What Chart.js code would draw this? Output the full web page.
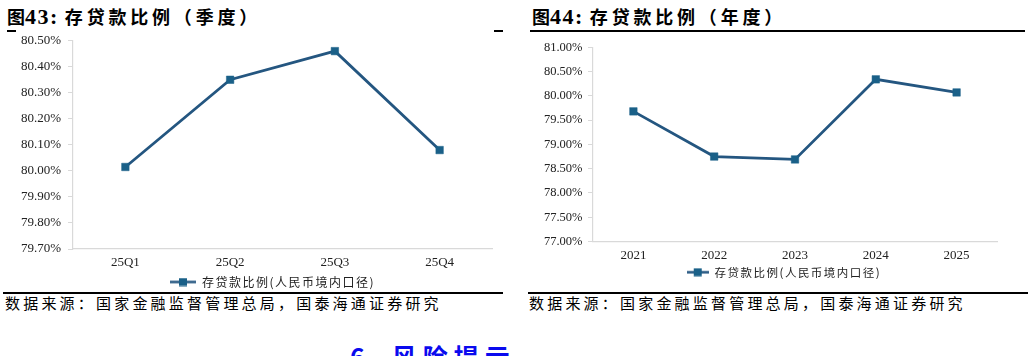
<!DOCTYPE html>
<html><head><meta charset="utf-8">
<script src="https://cdn.jsdelivr.net/npm/chart.js@4.4.1/dist/chart.umd.min.js"></script>
<style>
html,body{margin:0;padding:0;background:#fff;width:1032px;height:356px;overflow:hidden;position:relative;}
.title{position:absolute;white-space:nowrap;font-weight:bold;color:#000;line-height:24px;}
.title .cjk{font-family:"Noto Sans CJK SC";font-size:18px;}
.title .num{font-family:"Liberation Serif";font-size:22px;letter-spacing:1.5px;}
.title .sp{letter-spacing:3.8px;margin-left:6px;}
.rule{position:absolute;background:#000;height:2px;}
.src{position:absolute;white-space:nowrap;font-family:"Noto Sans CJK SC";font-size:15px;letter-spacing:3.2px;color:#000;line-height:18px;}
.sec{position:absolute;white-space:nowrap;font-family:"Noto Sans CJK SC";font-weight:bold;font-size:25px;letter-spacing:6px;color:#0a0aee;line-height:30px;}
.sec .n{letter-spacing:1px;}
canvas{position:absolute;}
</style></head>
<body>
<div class="title" style="left:7px;top:4px"><span class="cjk">图</span><span class="num">43:</span><span class="cjk sp">存贷款比例（季度）</span></div>
<div class="title" style="left:532px;top:4px"><span class="cjk">图</span><span class="num">44:</span><span class="cjk sp">存贷款比例（年度）</span></div>
<div class="rule" style="left:7px;top:30px;width:9px"></div>
<div class="rule" style="left:494px;top:30px;width:9px"></div>
<div class="rule" style="left:530px;top:30px;width:495px"></div>
<div class="rule" style="left:3px;top:292px;width:500px"></div>
<div class="rule" style="left:528px;top:292px;width:500px"></div>
<div class="src" style="left:5px;top:294px">数据来源：国家金融监督管理总局，国泰海通证券研究</div>
<div class="src" style="left:529px;top:294px">数据来源：国家金融监督管理总局，国泰海通证券研究</div>
<div class="sec" style="left:350px;top:341px"><span class="n">6、</span>风险提示</div>
<canvas id="c1" width="545" height="268" style="left:0px;top:30px"></canvas>
<canvas id="c2" width="524" height="252" style="left:522px;top:36px"></canvas>
<script>
// ---- data ----
const quarterLabels = ['25Q1', '25Q2', '25Q3', '25Q4'];
const quarterValues = [80.015, 80.35, 80.46, 80.08];
const quarterYTicks = [79.7, 79.8, 79.9, 80.0, 80.1, 80.2, 80.3, 80.4, 80.5];

const yearLabels = ['2021', '2022', '2023', '2024', '2025'];
const yearValues = [79.68, 78.75, 78.69, 80.34, 80.07];
const yearYTicks = [77.0, 77.5, 78.0, 78.5, 79.0, 79.5, 80.0, 80.5, 81.0];

const seriesName = '存贷款比例(人民币境内口径)';

// ---- styles ----
const LINE = '#245680';
const MARK = '#1a6088';
const AXIS = '#d9d9d9';
const LEGEND_SPACING = '1.5px';

// legend letter spacing
const LegendEl = Chart.Legend && Chart.Legend._element;
if (LegendEl && LegendEl.prototype) {
  const oFit = LegendEl.prototype.fit, oDraw = LegendEl.prototype.draw;
  LegendEl.prototype.fit = function () {
    const c = this.ctx; const p = c.letterSpacing; c.letterSpacing = LEGEND_SPACING;
    oFit.call(this); c.letterSpacing = p || '0px';
  };
  LegendEl.prototype.draw = function () {
    const c = this.ctx; const p = c.letterSpacing; c.letterSpacing = LEGEND_SPACING;
    oDraw.call(this); c.letterSpacing = p || '0px';
  };
}

function legendSymbol(w) {
  const cv = document.createElement('canvas');
  cv.width = w; cv.height = 9;
  const g = cv.getContext('2d');
  g.strokeStyle = LINE; g.lineWidth = 2.5;
  g.beginPath(); g.moveTo(0, 4.5); g.lineTo(w, 4.5); g.stroke();
  g.fillStyle = MARK;
  g.fillRect(w / 2 - 4, 0.5, 8, 8);
  return cv;
}

function makeChart(id, labels, values, yTicks, opt) {
  return new Chart(document.getElementById(id), {
    type: 'line',
    data: {
      labels: labels,
      datasets: [{
        label: seriesName,
        data: values,
        borderColor: LINE,
        backgroundColor: MARK,
        borderWidth: 2.8,
        tension: 0,
        pointStyle: 'rect',
        pointRadius: 5.3,
        pointBackgroundColor: MARK,
        pointBorderColor: MARK,
        pointBorderWidth: 0.5,
        clip: false
      }]
    },
    options: {
      responsive: false,
      animation: false,
      events: [],
      layout: { padding: { top: opt.padTop, bottom: 0, left: 0, right: 0 } },
      plugins: {
        tooltip: { enabled: false },
        legend: {
          position: 'bottom',
          labels: {
            usePointStyle: true,
            pointStyle: legendSymbol(opt.symW),
            pointStyleWidth: opt.symW,
            padding: 6,
            color: '#222',
            font: { family: '"Noto Sans CJK SC"', size: opt.lgFont }
          }
        }
      },
      scales: {
        x: {
          type: 'category',
          offset: true,
          grid: { display: false, drawTicks: false },
          border: { display: true, color: AXIS, width: 1.2 },
          ticks: { color: '#222', padding: 6, font: { family: '"Liberation Serif"', size: opt.xFont }, maxRotation: 0, autoSkip: false },
          afterFit: s => { s.height = opt.xH; }
        },
        y: {
          position: 'left',
          min: yTicks[0],
          max: yTicks[yTicks.length - 1],
          afterBuildTicks: s => { s.ticks = yTicks.map(v => ({ value: v })); },
          grid: { display: true, drawOnChartArea: false, drawTicks: true, tickLength: 5, color: AXIS },
          border: { display: true, color: AXIS, width: 1.2 },
          ticks: { color: '#222', padding: opt.yPad, font: { family: '"Liberation Serif"', size: opt.yFont, lineHeight: 0.4 },
                   callback: v => Number(v).toFixed(2) + '%' },
          afterFit: s => { s.width = opt.yW; }
        },
        yR: {
          position: 'right',
          display: true,
          grid: { display: false, drawTicks: false },
          border: { display: false },
          ticks: { display: false },
          afterFit: s => { s.width = opt.rW; }
        }
      }
    }
  });
}

makeChart('c1', quarterLabels, quarterValues, quarterYTicks,
  { padTop: 10.7, symW: 26, xFont: 13, xH: 21, yW: 73, rW: 53, yPad: 7, yFont: 13, lgFont: 12 });
makeChart('c2', yearLabels, yearValues, yearYTicks,
  { padTop: 11.3, symW: 22, xFont: 13, xH: 19, yW: 71, rW: 49, yPad: 5.5, yFont: 12.5, lgFont: 11.5 });
</script>
</body></html>
